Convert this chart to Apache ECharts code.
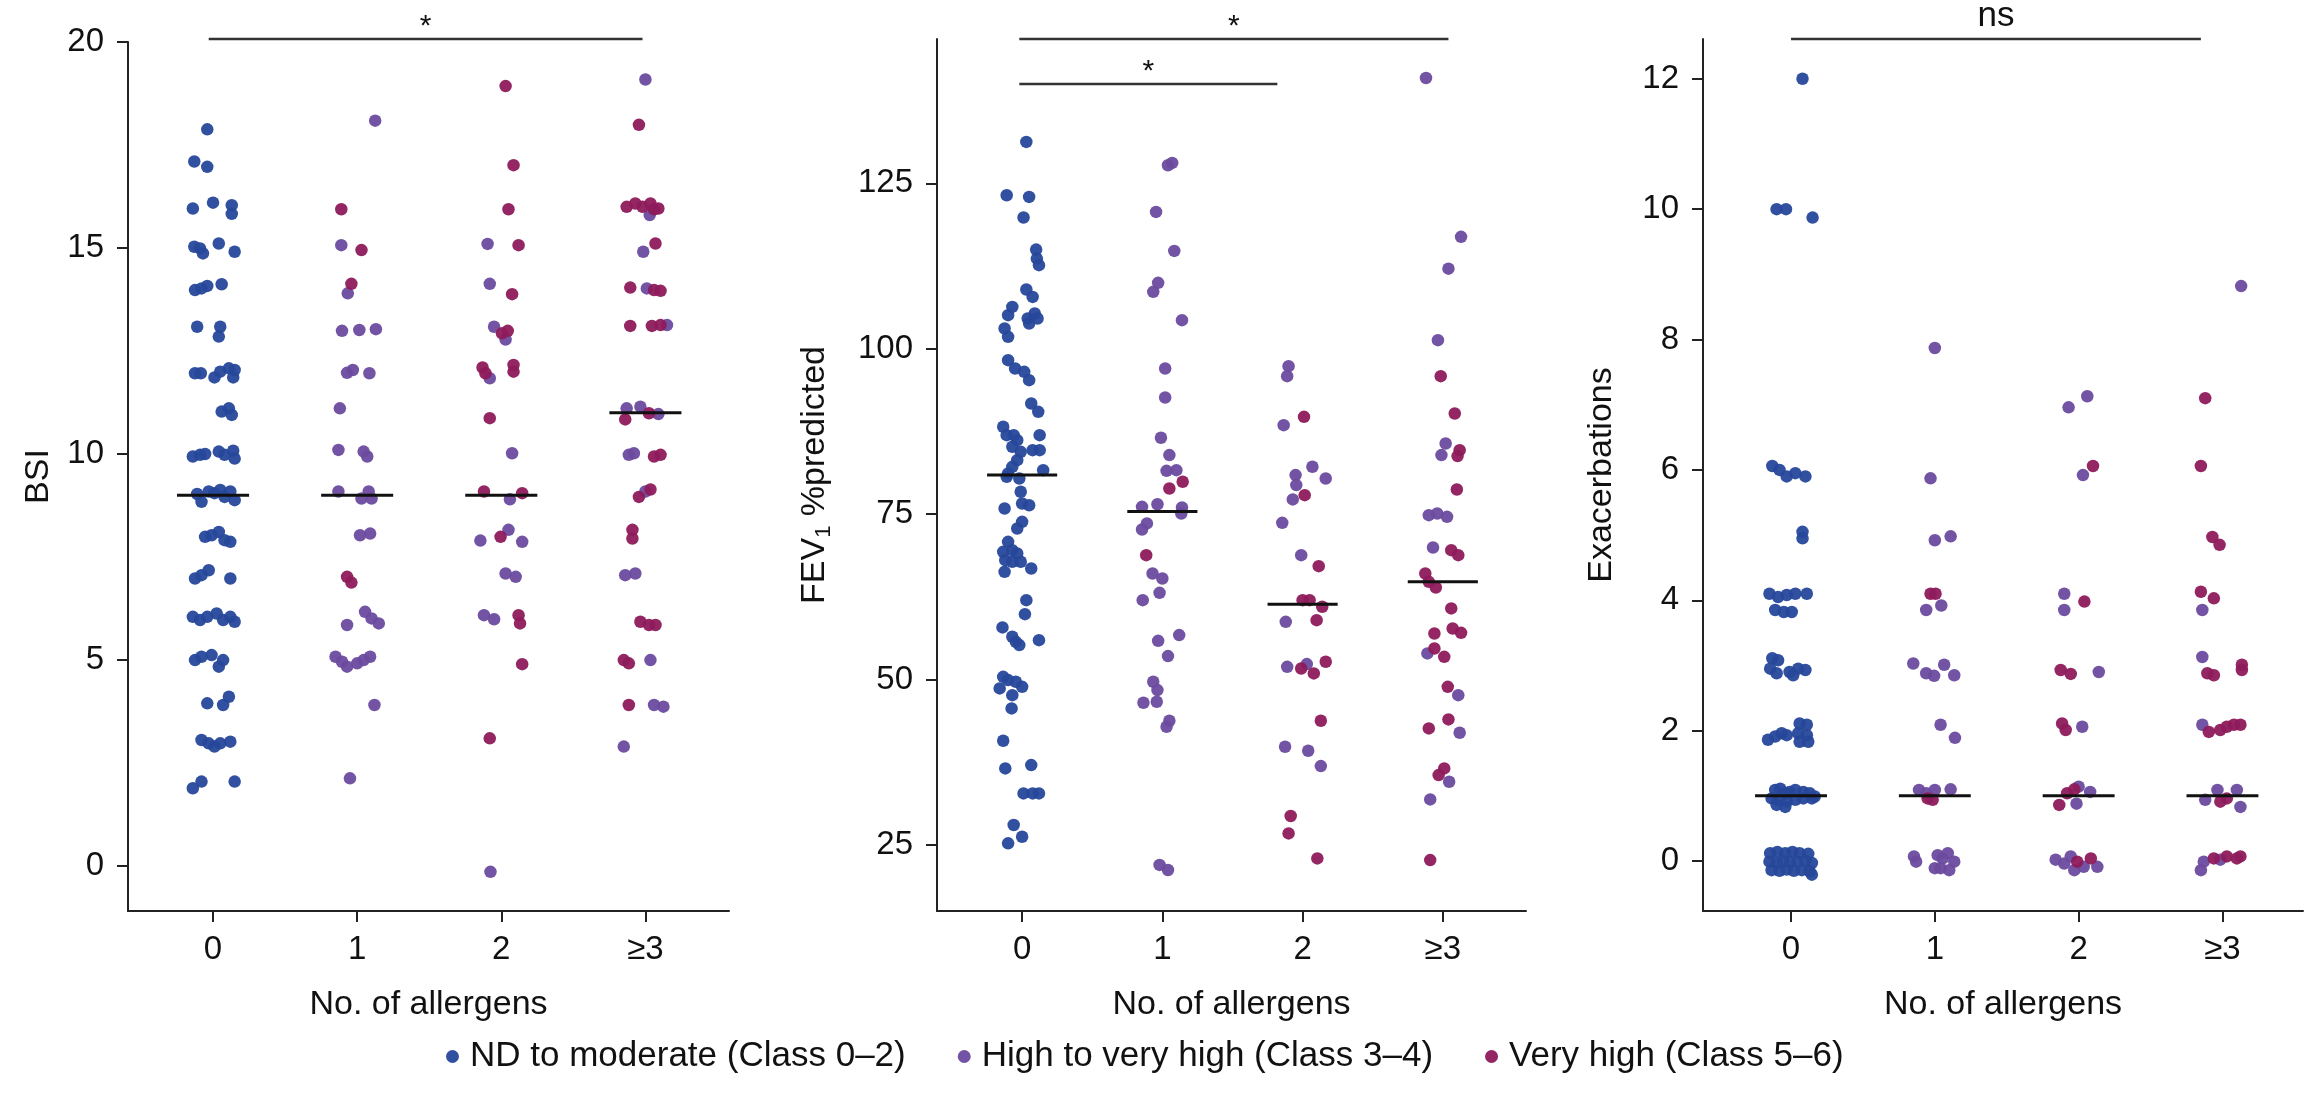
<!DOCTYPE html>
<html><head><meta charset="utf-8">
<script src="https://cdn.jsdelivr.net/npm/echarts@6/dist/echarts.min.js"></script>
<style>html,body{margin:0;padding:0;background:#fff}#c{width:2305px;height:1095px}</style>
</head><body><div id="c"></div>
<script>
const FONT = '"Liberation Sans", Arial, Helvetica, sans-serif';
const AX = '#222', TXT = '#111';
const CATS = ['0', '1', '2', '\u22653'];
const classNames = ['ND to moderate (Class 0\u20132)', 'High to very high (Class 3\u20134)', 'Very high (Class 5\u20136)'];
const classColors = ['#26479a', '#6b4b9f', '#8d1a5b'];

// points: [jitter offset (category units), value, class]
const bsi0 = [
[-0.04,17.88,0],[-0.13,17.10,0],[-0.04,16.97,0],[-0.14,15.96,0],[0.00,16.10,0],[0.13,16.04,0],[0.13,15.83,0],
[-0.13,15.03,0],[-0.09,14.99,0],[-0.07,14.87,0],[0.04,15.11,0],[0.15,14.91,0],
[-0.125,13.98,0],[-0.08,14.02,0],[-0.04,14.08,0],[0.06,14.12,0],
[-0.11,13.09,0],[0.05,13.09,0],[0.04,12.85,0],
[-0.125,11.96,0],[-0.085,11.96,0],[0.01,11.86,0],[0.05,12.0,0],[0.11,12.08,0],[0.15,12.04,0],[0.14,11.86,0],
[0.06,11.03,0],[0.11,11.11,0],[0.13,10.95,0],
[-0.14,9.94,0],[-0.09,9.98,0],[-0.055,10.0,0],[0.04,10.06,0],[0.08,9.98,0],[0.14,10.08,0],[0.15,9.89,0],
[-0.11,9.03,0],[-0.08,8.84,0],[-0.03,9.09,0],[0.01,9.05,0],[0.05,9.13,0],[0.08,8.96,0],[0.12,9.09,0],[0.15,8.88,0],
[-0.055,7.99,0],[-0.01,8.03,0],[0.04,8.11,0],[0.08,7.91,0],[0.12,7.87,0],
[-0.125,6.98,0],[-0.08,7.06,0],[-0.03,7.18,0],[0.12,6.98,0],
[-0.14,6.05,0],[-0.09,5.97,0],[-0.04,6.05,0],[0.025,6.13,0],[0.07,5.97,0],[0.12,6.05,0],[0.15,5.93,0],
[-0.125,5.0,0],[-0.08,5.08,0],[-0.01,5.12,0],[0.04,4.84,0],[0.07,5.0,0],
[-0.04,3.95,0],[0.07,3.91,0],[0.11,4.11,0],
[-0.08,3.06,0],[-0.03,2.98,0],[0.01,2.9,0],[0.05,2.98,0],[0.12,3.02,0],
[-0.14,1.89,0],[-0.08,2.05,0],[0.15,2.05,0]
];
const bsi1 = [
[0.125,18.09,1],[-0.11,15.94,2],[-0.11,15.07,1],[0.03,14.95,2],[-0.04,14.13,2],[-0.065,13.9,1],
[-0.105,12.99,1],[0.015,13.01,1],[0.13,13.03,1],[-0.07,11.97,1],[-0.03,12.04,1],[0.085,11.96,1],
[-0.12,11.11,1],[-0.13,10.1,1],[0.045,10.06,1],[0.07,9.94,1],
[-0.13,9.09,1],[0.03,8.92,1],[0.08,9.09,1],[0.10,8.92,1],[0.02,8.03,1],[0.09,8.07,1],
[-0.07,7.02,2],[-0.04,6.88,2],[-0.07,5.85,1],[0.055,6.17,1],[0.10,6.01,1],[0.15,5.89,1],
[-0.15,5.08,1],[-0.105,4.96,1],[-0.07,4.84,1],[0.0,4.92,1],[0.045,5.0,1],[0.09,5.08,1],
[0.12,3.91,1],[-0.05,2.13,1]
];
const bsi2 = [
[0.03,18.93,2],[0.085,17.01,2],[0.05,15.94,2],[-0.095,15.1,1],[0.12,15.07,2],[-0.08,14.13,1],[0.075,13.88,2],
[-0.05,13.09,1],[0.005,12.93,2],[0.045,12.99,2],[0.03,12.78,1],
[-0.13,12.1,2],[-0.11,11.96,2],[-0.08,11.84,1],[0.085,12.16,2],[0.085,12.0,2],
[-0.08,10.87,2],[0.075,10.02,1],
[-0.12,9.09,2],[0.06,8.9,1],[0.145,9.05,2],
[-0.145,7.9,1],[-0.005,7.99,2],[0.05,8.16,1],[0.145,7.87,1],
[0.03,7.1,1],[0.1,7.02,1],
[-0.12,6.09,1],[-0.05,5.99,1],[0.12,6.09,2],[0.13,5.89,2],
[0.145,4.9,2],[-0.08,3.1,2],[-0.075,-0.14,1]
];
const bsi3 = [
[0.0,19.09,1],[-0.045,17.99,2],
[-0.13,16.0,2],[-0.07,16.08,2],[-0.02,16.0,2],[0.035,16.08,2],[0.06,15.94,2],[0.09,15.96,2],[0.03,15.8,1],
[-0.015,14.91,1],[0.07,15.11,2],
[-0.105,14.04,2],[0.01,14.02,1],[0.06,13.98,2],[0.105,13.96,2],
[-0.105,13.11,2],[0.045,13.11,2],[0.105,13.13,2],[0.15,13.13,1],
[-0.13,11.11,1],[-0.14,10.84,2],[-0.035,11.15,1],[0.025,10.99,2],[0.09,10.97,1],
[-0.115,9.98,1],[-0.08,10.02,1],[0.06,9.94,2],[0.105,9.98,2],
[-0.045,8.96,2],[0.0,9.09,1],[0.035,9.14,2],
[-0.09,8.16,2],[-0.09,7.95,2],
[-0.14,7.06,1],[-0.07,7.1,1],
[-0.035,5.93,2],[0.025,5.85,2],[0.07,5.85,2],
[-0.15,5.0,2],[-0.115,4.92,2],[0.035,5.0,1],
[-0.115,3.91,2],[0.06,3.91,1],[0.125,3.87,1],
[-0.15,2.9,1]
];

const fev0 = [
[0.03,131.25,0],[-0.11,123.19,0],[0.05,122.94,0],[0.01,119.82,0],[0.10,114.98,0],[0.105,113.62,0],[0.12,112.62,0],
[0.03,108.94,0],[0.075,107.83,0],[-0.07,106.32,0],[-0.10,105.07,0],[0.04,104.56,0],[0.09,105.32,0],[0.11,104.56,0],[0.05,103.81,0],
[-0.125,103.05,0],[-0.10,101.79,0],[-0.10,98.27,0],[-0.05,97.01,0],[0.015,96.5,0],[0.05,95.25,0],
[0.065,91.72,0],[0.115,90.46,0],[-0.135,88.2,0],[-0.11,86.94,0],[-0.06,86.94,0],[-0.035,86.18,0],[0.125,86.94,0],
[-0.07,85.18,0],[-0.01,84.42,0],[0.075,84.67,0],[0.125,84.67,0],[-0.035,83.16,0],[-0.07,82.15,0],[-0.10,81.15,0],[0.15,81.65,0],
[-0.11,80.64,0],[-0.02,80.39,0],[-0.01,78.38,0],
[-0.125,75.85,0],[0.0,76.61,0],[0.05,76.35,0],[0.0,73.84,0],[-0.035,72.83,0],
[-0.10,70.82,0],[-0.135,69.31,0],[-0.07,69.56,0],[-0.035,69.05,0],[-0.12,68.05,0],[-0.07,67.8,0],[-0.01,67.8,0],[0.065,66.79,0],[-0.125,66.28,0],
[0.03,62.0,0],[0.02,59.89,0],[-0.14,57.88,0],[-0.07,56.47,0],[-0.045,55.71,0],[-0.02,55.21,0],[0.12,55.96,0],
[-0.135,50.42,0],[-0.10,49.92,0],[-0.045,49.67,0],[0.0,48.91,0],[-0.16,48.66,0],[-0.07,47.65,0],[-0.075,45.64,0],
[-0.135,40.76,0],[-0.12,36.58,0],[0.065,37.08,0],[0.01,32.8,0],[0.075,32.8,0],[0.12,32.8,0],
[-0.06,28.02,0],[0.0,26.25,0],[-0.10,25.25,0]
];
const fev1 = [
[0.04,127.72,1],[0.07,128.08,1],[-0.045,120.67,1],[0.085,114.78,1],[-0.03,109.95,1],[-0.065,108.59,1],[0.14,104.31,1],
[0.02,97.01,1],[0.02,92.63,1],[-0.01,86.54,1],[0.05,83.92,1],[0.03,81.55,1],[0.10,81.65,1],[0.05,78.88,2],[0.145,79.89,2],
[-0.145,76.1,1],[-0.035,76.5,1],[0.14,76.0,1],[0.135,75.1,1],[-0.11,73.6,1],[-0.145,72.68,1],[-0.115,68.8,2],
[-0.07,66.03,1],[0.0,65.28,1],[-0.02,63.11,1],[-0.14,62.0,1],[-0.03,55.86,1],[0.12,56.72,1],[0.04,53.55,1],
[-0.065,49.67,1],[-0.035,48.41,1],[-0.135,46.5,1],[-0.04,46.65,1],[0.05,43.78,1],[0.03,42.87,1],[-0.02,22.0,1],[0.04,21.22,1]
];
const fev2 = [
[-0.10,97.36,1],[-0.11,95.85,1],[-0.135,88.45,1],[0.01,89.71,2],[0.07,82.16,1],[-0.05,80.9,1],[-0.045,79.39,1],[0.165,80.39,1],
[0.015,77.87,2],[-0.07,77.22,1],[-0.145,73.69,1],[-0.01,68.8,1],[0.115,67.14,2],[0.0,62.0,2],[0.05,62.0,2],[0.14,61.0,2],
[-0.12,58.73,1],[0.10,58.98,2],[-0.11,51.93,1],[-0.01,51.68,2],[0.03,52.34,1],[0.08,50.93,2],[0.165,52.69,2],[0.13,43.78,2],
[-0.125,39.85,1],[0.04,39.25,1],[0.13,36.93,1],[-0.085,29.38,2],[-0.10,26.76,2],[0.105,22.98,2]
];
const fev3 = [
[-0.12,140.9,1],[0.13,116.9,1],[0.04,112.1,1],[-0.035,101.29,1],[-0.015,95.85,2],[0.085,90.21,2],[0.02,85.68,1],[-0.01,83.92,1],
[0.12,84.67,2],[0.105,83.77,2],[0.10,78.73,2],[-0.10,74.84,1],[-0.04,75.1,1],[0.03,74.59,1],[-0.07,69.96,1],[0.06,69.56,2],[0.11,68.8,2],
[-0.125,66.03,2],[-0.10,64.77,2],[-0.05,63.92,2],[0.06,60.75,2],[-0.06,56.97,2],[0.07,57.72,2],[0.13,57.07,2],
[-0.11,53.95,1],[-0.06,54.7,2],[0.01,53.44,2],[0.035,48.91,2],[0.11,47.65,1],[-0.10,42.62,2],[0.04,43.98,2],[0.12,41.96,1],
[0.01,36.58,2],[-0.03,35.57,2],[0.045,34.56,1],[-0.09,31.89,1],[-0.09,22.73,2]
];

const exa0 = [
[0.08,12.0,0],[-0.1,10.0,0],[-0.035,10.0,0],[0.15,9.87,0],
[-0.13,6.06,0],[-0.08,6.0,0],[-0.03,5.9,0],[0.03,5.95,0],[0.1,5.9,0],[0.08,5.05,0],[0.08,4.95,0],
[-0.15,4.1,0],[-0.09,4.05,0],[-0.03,4.08,0],[0.03,4.1,0],[0.11,4.1,0],[-0.11,3.85,0],[-0.05,3.82,0],[0.005,3.82,0],
[-0.13,3.11,0],[-0.09,3.08,0],[-0.145,2.95,0],[-0.1,2.88,0],[-0.01,2.9,0],[0.05,2.95,0],[0.1,2.93,0],[0.015,2.85,0],
[-0.16,1.86,0],[-0.11,1.91,0],[-0.065,1.96,0],[-0.03,1.93,0],[0.06,2.11,0],[0.11,2.09,0],[0.05,1.96,0],[0.11,1.93,0],[0.06,1.83,0],[0.12,1.83,0],
[-0.11,1.09,0],[-0.075,1.11,0],[-0.04,1.04,0],[-0.01,1.06,0],[0.03,1.09,0],[0.085,1.06,0],[0.13,1.04,0],[0.165,0.99,0],
[-0.135,0.96,0],[-0.09,0.94,0],[-0.03,0.91,0],[0.03,0.94,0],[0.085,0.96,0],[0.145,0.96,0],[-0.04,0.83,0],[-0.1,0.86,0],
[-0.145,0.12,0],[-0.095,0.14,0],[-0.04,0.12,0],[0.01,0.14,0],[0.06,0.12,0],[0.12,0.11,0],
[-0.15,-0.01,0],[-0.1,-0.03,0],[-0.055,0.0,0],[-0.005,-0.02,0],[0.045,-0.01,0],[0.1,0.0,0],[0.145,-0.03,0],
[-0.135,-0.14,0],[-0.08,-0.15,0],[-0.03,-0.13,0],[0.02,-0.15,0],[0.075,-0.14,0],[0.13,-0.16,0],[0.145,-0.21,0]
];
const exa1 = [
[0,7.87,1],[-0.03,5.87,1],[0,4.92,1],[0.11,4.98,1],
[-0.03,4.1,2],[0.005,4.1,2],[-0.06,3.85,1],[0.045,3.92,1],
[-0.15,3.03,1],[-0.06,2.88,1],[-0.005,2.84,1],[0.065,3.01,1],[0.135,2.85,1],
[0.04,2.09,1],[0.14,1.89,1],
[-0.11,1.09,1],[-0.06,1.04,1],[0.0,1.09,1],[0.11,1.1,1],[-0.05,0.96,2],[-0.015,0.94,2],
[-0.145,0.07,1],[-0.13,-0.01,1],[0.02,0.09,1],[0.055,0.04,1],[0.09,0.12,1],[0.135,-0.01,1],[0.04,-0.11,1],[0.1,-0.14,1],[0.0,-0.11,1]
];
const exa2 = [
[-0.07,6.96,1],[0.06,7.13,1],[0.03,5.92,1],[0.1,6.06,2],
[-0.1,4.1,1],[-0.1,3.85,1],[0.04,3.98,2],
[-0.125,2.93,2],[-0.055,2.87,2],[0.14,2.9,1],
[-0.115,2.11,2],[-0.09,2.01,2],[0.025,2.06,1],
[-0.135,0.86,2],[-0.08,1.04,2],[-0.03,1.1,2],[0.0,1.14,1],[-0.015,0.88,1],[0.08,1.06,1],
[-0.16,0.02,1],[-0.1,-0.04,1],[-0.055,0.07,1],[-0.01,-0.01,2],[0.035,-0.09,1],[0.085,0.04,2],[0.13,-0.09,1],[-0.03,-0.14,1]
];
const exa3 = [
[0.13,8.82,1],[-0.12,7.1,2],[-0.15,6.06,2],[-0.07,4.97,2],[-0.02,4.85,2],
[-0.15,4.13,2],[-0.06,4.03,2],[-0.14,3.85,1],
[-0.14,3.13,1],[-0.105,2.88,2],[-0.06,2.85,2],[0.135,3.01,2],[0.135,2.93,2],
[-0.14,2.09,1],[-0.095,1.98,2],[-0.015,2.01,2],[0.03,2.06,2],[0.08,2.09,2],[0.125,2.09,2],
[-0.12,0.94,1],[-0.035,1.09,1],[-0.015,0.91,2],[0.03,0.96,2],[0.1,1.09,1],[0.125,0.83,1],
[-0.15,-0.14,1],[-0.13,-0.01,1],[-0.06,0.04,2],[-0.015,0.02,1],[0.03,0.07,2],[0.1,0.04,2],[0.125,0.07,2]
];

const bsiMed = [9, 9, 9, 11];
const fevMed = [80.9, 75.4, 61.4, 64.8];
const exaMed = [1, 1, 1, 1];

// significance bars: [x from, x to, y value, label]
const bsiSig = [[-0.03, 2.98, 20.07, '*']];
const fevSig = [[-0.02, 3.04, 146.8, '*'], [-0.02, 1.82, 140.0, '*']];
const exaSig = [[0, 2.85, 12.61, 'ns']];

const bsiTicks = [0, 5, 10, 15, 20];
const fevTicks = [25, 50, 75, 100, 125];
const exaTicks = [0, 2, 4, 6, 8, 10, 12];

const panels = [
  { groups: [bsi0, bsi1, bsi2, bsi3], med: bsiMed, sig: bsiSig, ticks: bsiTicks, grid: {left: 128, top: 42, width: 601, height: 869},
    xr: [-0.59, 3.58], yr: [-1.09, 20], name: 'BSI', nameGap: 72 },
  { groups: [fev0, fev1, fev2, fev3], med: fevMed, sig: fevSig, ticks: fevTicks, grid: {left: 937, top: 39, width: 589, height: 872},
    xr: [-0.607, 3.593], yr: [15.03, 146.8], name: '{a|FEV}{s|1}{a| %predicted}', nameGap: 102 },
  { groups: [exa0, exa1, exa2, exa3], med: exaMed, sig: exaSig, ticks: exaTicks, grid: {left: 1703, top: 39, width: 600, height: 872},
    xr: [-0.612, 3.56], yr: [-0.767, 12.61], name: 'Exacerbations', nameGap: 84 }
];

const grids = [], xAxes = [], yAxes = [], series = [];
panels.forEach((p, gi) => {
  grids.push(Object.assign({containLabel: false}, p.grid));
  xAxes.push({
    gridIndex: gi, type: 'value', min: p.xr[0], max: p.xr[1],
    axisLine: {show: true, onZero: false, lineStyle: {color: AX, width: 2}},
    axisTick: {show: true, length: 11, lineStyle: {color: AX, width: 2}, customValues: [0, 1, 2, 3]},
    axisLabel: {customValues: [0, 1, 2, 3], formatter: v => CATS[Math.round(v)], fontSize: 33, color: TXT, fontFamily: FONT, margin: 22},
    splitLine: {show: false},
    name: 'No. of allergens', nameLocation: 'middle', nameGap: 77,
    nameTextStyle: {fontSize: 34, color: TXT, fontFamily: FONT}
  });
  yAxes.push({
    gridIndex: gi, type: 'value', min: p.yr[0], max: p.yr[1],
    axisLine: {show: true, onZero: false, lineStyle: {color: AX, width: 2}},
    axisTick: {show: true, length: 11, lineStyle: {color: AX, width: 2}, customValues: p.ticks},
    axisLabel: {customValues: p.ticks, fontSize: 33, color: TXT, fontFamily: FONT, margin: 24},
    splitLine: {show: false},
    name: p.name, nameLocation: 'middle', nameGap: p.nameGap,
    nameTextStyle: {fontSize: 34, color: TXT, fontFamily: FONT,
      rich: {a: {fontSize: 34, fontFamily: FONT, color: TXT, lineHeight: 40},
             s: {fontSize: 22, fontFamily: FONT, color: TXT, lineHeight: 24, verticalAlign: 'bottom'}}}
  });
  for (let cls = 0; cls < 3; cls++) {
    const data = [];
    p.groups.forEach((g, ci) => g.forEach(pt => { if (pt[2] === cls) data.push([ci + pt[0], pt[1]]); }));
    series.push({
      type: 'scatter', name: classNames[cls], xAxisIndex: gi, yAxisIndex: gi,
      data, symbol: 'circle', symbolSize: 12.5, itemStyle: {color: classColors[cls], opacity: 0.95},
      emphasis: {disabled: true}, silent: true, z: 2
    });
  }
  series.push({
    type: 'custom', xAxisIndex: gi, yAxisIndex: gi, silent: true, z: 5,
    data: p.med.map((m, i) => [i, m]),
    renderItem: (params, api) => {
      const c = api.value(0), m = api.value(1);
      const a = api.coord([c - 0.25, m]), b = api.coord([c + 0.25, m]);
      return {type: 'line', shape: {x1: a[0], y1: a[1], x2: b[0], y2: b[1]}, style: {stroke: '#111', lineWidth: 3}};
    }
  });
});

const chart = echarts.init(document.getElementById('c'), null, {renderer: 'canvas'});
chart.setOption({
  animation: false,
  backgroundColor: '#fff',
  grid: grids, xAxis: xAxes, yAxis: yAxes, series,
  legend: {
    data: classNames, left: 441, top: 1034, icon: 'circle', itemWidth: 13, itemHeight: 13, itemGap: 52,
    selectedMode: false,
    textStyle: {fontSize: 35, color: TXT, fontFamily: FONT, padding: [0, 0, 0, 6]}
  }
});

const els = [];
panels.forEach((p, gi) => {
  p.sig.forEach(s => {
    const a = chart.convertToPixel({gridIndex: gi}, [s[0], s[2]]);
    const b = chart.convertToPixel({gridIndex: gi}, [s[1], s[2]]);
    els.push({type: 'line', shape: {x1: a[0], y1: a[1], x2: b[0], y2: b[1]}, style: {stroke: '#333', lineWidth: 2.5}, silent: true});
    const isStar = s[3] === '*';
    els.push({type: 'text', x: (a[0] + b[0]) / 2, y: a[1] - (isStar ? 12 : 23), silent: true,
      style: {text: s[3], fontSize: isStar ? 30 : 35, fontFamily: FONT, fill: TXT, align: 'center', verticalAlign: 'middle'}});
  });
});
chart.setOption({graphic: els});
</script></body></html>
